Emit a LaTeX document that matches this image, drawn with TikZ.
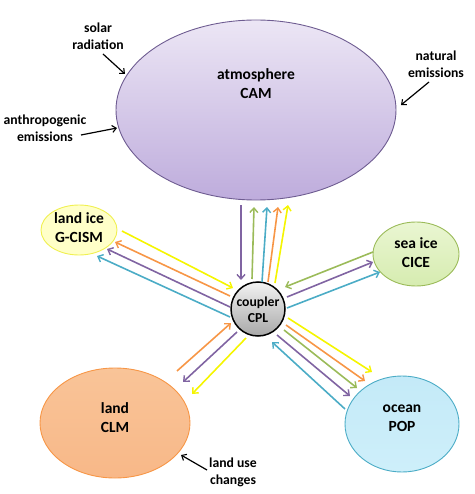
\documentclass[tikz,border=0pt]{standalone}
\usepackage{fontspec}
\setmainfont{Carlito}
\usetikzlibrary{shapes.geometric,arrows.meta}
\definecolor{cpurple}{HTML}{8064A2}
\definecolor{cgreen}{HTML}{9BBB59}
\definecolor{cblue}{HTML}{4BACC6}
\definecolor{corange}{HTML}{F79646}
\definecolor{cyellow}{HTML}{F5F500}
\tikzset{
  comp/.style={ellipse, inner sep=0pt, line width=0.9pt},
  ntext/.style={align=center, font=\fontsize{15.5}{19}\selectfont\bfseries, inner sep=0pt},
  ltext/.style={align=center, font=\fontsize{13.7}{17}\selectfont\bfseries, inner sep=0pt},
  flow/.style={line width=1.6pt, -{Straight Barb[length=4.5pt,width=8pt,line width=1.4pt]}},
  ext/.style={line width=1.2pt, black, -{Straight Barb[length=4pt,width=7pt,line width=1.1pt]}},
}
\begin{document}
\begin{tikzpicture}[x=1pt,y=-1pt]
\useasboundingbox (0,0) rectangle (474,494);
% components
\node[comp, draw={rgb,255:red,110;green,92;blue,145}, top color={rgb,255:red,236;green,230;blue,245}, bottom color={rgb,255:red,190;green,172;blue,220}, minimum width=280pt, minimum height=180pt] (atm) at (256,110) {};
\node[ntext] (atmt) at (256,84) {atmosphere\\CAM};
\node[comp, draw={rgb,255:red,240;green,240;blue,80}, fill={rgb,255:red,255;green,255;blue,200}, minimum width=76pt, minimum height=50pt] (lice) at (79,230) {};
\node[ntext] (licet) at (79,228) {land ice\\G-CISM};
\node[comp, draw=cgreen, top color={rgb,255:red,234;green,246;blue,210}, bottom color={rgb,255:red,214;green,236;blue,176}, minimum width=86pt, minimum height=64pt] (sice) at (416,254) {};
\node[ntext] (sicet) at (416,253) {sea ice\\CICE};
\node[comp, draw=corange, top color={rgb,255:red,249;green,196;blue,152}, bottom color={rgb,255:red,248;green,184;blue,136}, minimum width=150pt, minimum height=110pt] (land) at (115,423) {};
\node[ntext] (landt) at (115,418) {land\\CLM};
\node[comp, draw=cblue, top color={rgb,255:red,196;green,234;blue,248}, bottom color={rgb,255:red,206;green,239;blue,250}, minimum width=114pt, minimum height=96pt] (ocean) at (402,424) {};
\node[ntext] (oceant) at (402,418) {ocean\\POP};
\node[circle, draw=black, line width=1.5pt, inner sep=0pt, minimum size=54pt, top color={rgb,255:red,242;green,242;blue,242}, bottom color={rgb,255:red,168;green,168;blue,168}] (cpl) at (258,309) {};
\node[font=\fontsize{13.7}{16}\selectfont\bfseries, align=center, inner sep=0pt] (cplt) at (258,310) {coupler\\CPL};
% external labels
\node[ltext] (solar) at (98,36) {solar\\radiation};
\node[ltext] (natural) at (436,64) {natural\\emissions};
\node[ltext] (anthro) at (45,128) {anthropogenic\\emissions};
\node[ltext] (landuse) at (233,472) {land use\\changes};
\coordinate (solarS) at (103,54); \coordinate (solarE) at (125,74);
\coordinate (natS) at (429,82); \coordinate (natE) at (401,105);
\coordinate (antS) at (81,135); \coordinate (antE) at (117,128);
\coordinate (luS) at (207,470); \coordinate (luE) at (181,455);
\draw[ext] (solarS) -- (solarE);
\draw[ext] (natS) -- (natE);
\draw[ext] (antS) -- (antE);
\draw[ext] (luS) -- (luE);
% atmosphere <-> coupler
\coordinate (a1) at (241,205); \coordinate (c1) at (241,280);
\coordinate (c2) at (252,279); \coordinate (a2) at (254,207);
\coordinate (c3) at (262,282); \coordinate (a3) at (267,207);
\coordinate (c4) at (268,282); \coordinate (a4) at (278,207);
\coordinate (c5) at (275,283); \coordinate (a5) at (288,205);
\draw[flow, cpurple] (a1) -- (c1);
\draw[flow, cgreen] (c2) -- (a2);
\draw[flow, cblue] (c3) -- (a3);
\draw[flow, corange] (c4) -- (a4);
\draw[flow, cyellow] (c5) -- (a5);
% land ice <-> coupler
\coordinate (li1) at (122,231); \coordinate (cl1) at (233,288);
\coordinate (cl2) at (230,296); \coordinate (li2) at (115,242);
\coordinate (cl3) at (230,307); \coordinate (li3) at (107,249);
\coordinate (cl4) at (230,317); \coordinate (li4) at (97,256);
\draw[flow, cyellow] (li1) -- (cl1);
\draw[flow, corange] (cl2) -- (li2);
\draw[flow, cpurple] (cl3) -- (li3);
\draw[flow, cblue] (cl4) -- (li4);
% sea ice <-> coupler
\coordinate (si1) at (373,252); \coordinate (cs1) at (285,287);
\coordinate (cs2) at (287,297); \coordinate (si2) at (373,262);
\coordinate (cs3) at (287,308); \coordinate (si3) at (380,272);
\draw[flow, cgreen] (si1) -- (cs1);
\draw[flow, cpurple] (cs2) -- (si2);
\draw[flow, cblue] (cs3) -- (si3);
% land <-> coupler
\coordinate (la1) at (177,371); \coordinate (cd1) at (231,323);
\coordinate (cd2) at (237,332); \coordinate (la2) at (183,382);
\coordinate (cd3) at (246,338); \coordinate (la3) at (192,394);
\draw[flow, corange] (la1) -- (cd1);
\draw[flow, cpurple] (cd2) -- (la2);
\draw[flow, cyellow] (cd3) -- (la3);
% ocean <-> coupler
\coordinate (co1) at (288,318); \coordinate (oc1) at (372,372);
\coordinate (co2) at (286,325); \coordinate (oc2) at (365,381);
\coordinate (co3) at (284,330); \coordinate (oc3) at (357,388);
\coordinate (co4) at (277,335); \coordinate (oc4) at (350,396);
\coordinate (oc5) at (345,409); \coordinate (co5) at (272,342);
\draw[flow, cyellow] (co1) -- (oc1);
\draw[flow, corange] (co2) -- (oc2);
\draw[flow, cgreen] (co3) -- (oc3);
\draw[flow, cpurple] (co4) -- (oc4);
\draw[flow, cblue] (oc5) -- (co5);
\end{tikzpicture}
\end{document}
